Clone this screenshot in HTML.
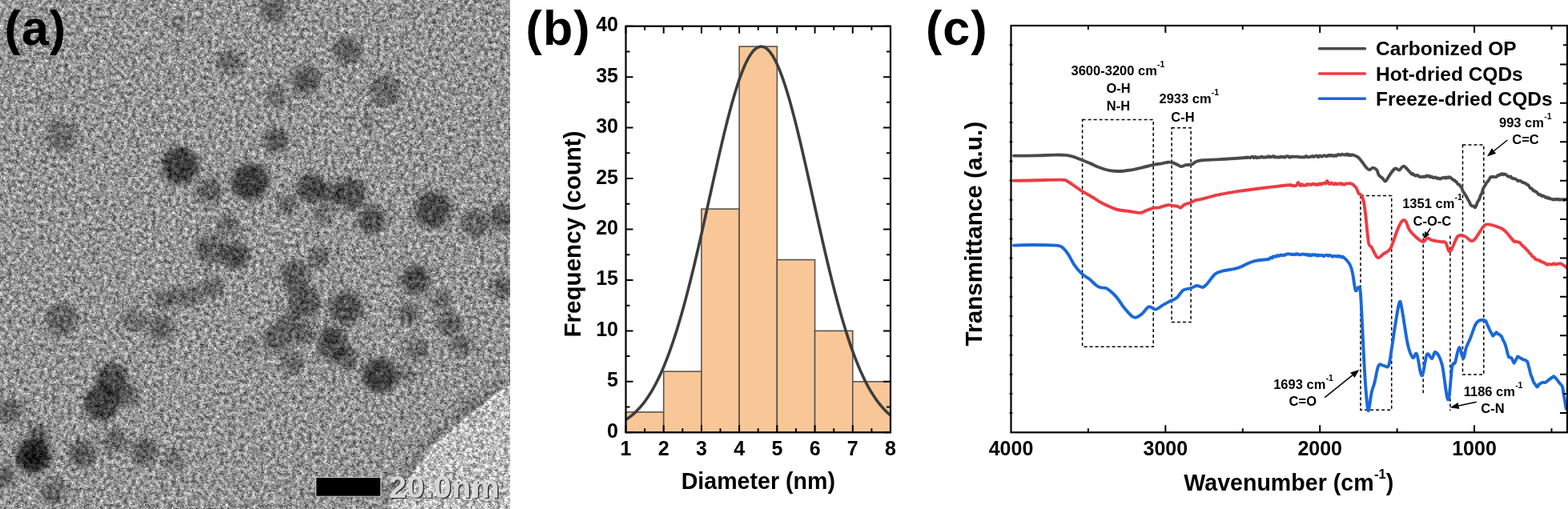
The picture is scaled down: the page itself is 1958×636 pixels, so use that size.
<!DOCTYPE html>
<html><head><meta charset="utf-8"><title>Figure</title>
<style>
html,body{margin:0;padding:0;background:#fff;}
body{width:1958px;height:636px;overflow:hidden;position:relative;}
.tem{position:absolute;left:0;top:0;}
.main{position:absolute;left:0;top:0;}
text{font-family:'Liberation Sans', Arial, Helvetica, sans-serif;font-weight:bold;fill:#000;}
.tl{font-size:25px;}
.al{font-size:29px;}
.lg{font-size:24.5px;}
.an{font-size:16.5px;}
.pl{font-size:61px;letter-spacing:1px;}
</style></head><body>
<svg class="tem" width="637" height="636" viewBox="0 0 637 636"><defs><filter id="tn" x="0" y="0" width="637" height="636" filterUnits="userSpaceOnUse" color-interpolation-filters="sRGB"><feTurbulence type="fractalNoise" baseFrequency="0.6" numOctaves="1" seed="7" result="t1"/><feColorMatrix in="t1" type="matrix" values="1 0 0 0 0  1 0 0 0 0  1 0 0 0 0  0 0 0 0 1" result="g1"/><feTurbulence type="fractalNoise" baseFrequency="0.2" numOctaves="2" seed="3" result="t2"/><feColorMatrix in="t2" type="matrix" values="1 0 0 0 0  1 0 0 0 0  1 0 0 0 0  0 0 0 0 1" result="g2"/><feComposite in="g1" in2="g2" operator="arithmetic" k1="0" k2="0.5" k3="0.500" k4="0" result="g"/><feComposite in="SourceGraphic" in2="g" operator="arithmetic" k1="1.800" k2="0.100" k3="0.6" k4="-0.300"/></filter><filter id="bl" x="-50%" y="-50%" width="200%" height="200%"><feGaussianBlur stdDeviation="3.5"/></filter><filter id="bl2" x="-50%" y="-50%" width="200%" height="200%"><feGaussianBlur stdDeviation="3"/></filter><filter id="bl3" x="-50%" y="-50%" width="200%" height="200%"><feGaussianBlur stdDeviation="1"/></filter></defs><g filter="url(#tn)"><rect width="637" height="636" fill="#949494"/><path d="M637,482 C628,488 618,495 611,501 C596,512 580,525 567,537 C557,546 548,553 541,561 C533,570 527,579 521,587 C514,597 507,604 501,611 C496,618 492,627 489,636 L637,636 Z" fill="#bcbcbc"/><path d="M637,482 C628,488 618,495 611,501 C596,512 580,525 567,537 C557,546 548,553 541,561 C533,570 527,579 521,587 C514,597 507,604 501,611 C496,618 492,627 489,636" transform="translate(-7,-6)" fill="none" stroke="#000" stroke-opacity="0.16" stroke-width="12" filter="url(#bl2)"/><path d="M637,482 C628,488 618,495 611,501 C596,512 580,525 567,537 C557,546 548,553 541,561 C533,570 527,579 521,587 C514,597 507,604 501,611 C496,618 492,627 489,636" fill="none" stroke="#e4e4e4" stroke-width="3" filter="url(#bl3)"/><g filter="url(#bl)"><circle cx="77" cy="170" r="20.0" fill="#000" fill-opacity="0.28"/><circle cx="60" cy="125" r="8.0" fill="#000" fill-opacity="0.12"/><circle cx="342" cy="13" r="17.0" fill="#000" fill-opacity="0.34"/><circle cx="287" cy="77" r="15.0" fill="#000" fill-opacity="0.31"/><circle cx="382" cy="100" r="18.0" fill="#000" fill-opacity="0.40"/><circle cx="345" cy="120" r="14.0" fill="#000" fill-opacity="0.28"/><circle cx="345" cy="175" r="15.0" fill="#000" fill-opacity="0.43"/><circle cx="222" cy="30" r="10.0" fill="#000" fill-opacity="0.19"/><circle cx="225" cy="207" r="23.0" fill="#000" fill-opacity="0.59"/><circle cx="434" cy="63" r="17.0" fill="#000" fill-opacity="0.37"/><circle cx="481" cy="113" r="20.0" fill="#000" fill-opacity="0.31"/><circle cx="461" cy="153" r="10.0" fill="#000" fill-opacity="0.19"/><circle cx="77" cy="399" r="20.0" fill="#000" fill-opacity="0.34"/><circle cx="167" cy="399" r="15.0" fill="#000" fill-opacity="0.28"/><circle cx="203" cy="375" r="12.0" fill="#000" fill-opacity="0.28"/><circle cx="201" cy="410" r="16.0" fill="#000" fill-opacity="0.34"/><circle cx="312" cy="227" r="23.0" fill="#000" fill-opacity="0.59"/><circle cx="262" cy="239" r="16.0" fill="#000" fill-opacity="0.37"/><circle cx="389" cy="235" r="18.0" fill="#000" fill-opacity="0.50"/><circle cx="412" cy="242" r="14.0" fill="#000" fill-opacity="0.37"/><circle cx="359" cy="255" r="13.0" fill="#000" fill-opacity="0.31"/><circle cx="284" cy="282" r="14.0" fill="#000" fill-opacity="0.31"/><circle cx="294" cy="319" r="17.0" fill="#000" fill-opacity="0.50"/><circle cx="262" cy="312" r="18.0" fill="#000" fill-opacity="0.37"/><circle cx="368" cy="344" r="18.0" fill="#000" fill-opacity="0.40"/><circle cx="399" cy="322" r="13.0" fill="#000" fill-opacity="0.34"/><circle cx="402" cy="269" r="12.0" fill="#000" fill-opacity="0.28"/><circle cx="380" cy="377" r="20.0" fill="#000" fill-opacity="0.43"/><circle cx="265" cy="359" r="14.0" fill="#000" fill-opacity="0.31"/><circle cx="239" cy="369" r="13.0" fill="#000" fill-opacity="0.31"/><circle cx="219" cy="372" r="12.0" fill="#000" fill-opacity="0.28"/><circle cx="362" cy="399" r="12.0" fill="#000" fill-opacity="0.31"/><circle cx="412" cy="419" r="12.0" fill="#000" fill-opacity="0.31"/><circle cx="437" cy="242" r="20.0" fill="#000" fill-opacity="0.46"/><circle cx="464" cy="275" r="18.0" fill="#000" fill-opacity="0.43"/><circle cx="541" cy="262" r="23.0" fill="#000" fill-opacity="0.50"/><circle cx="594" cy="279" r="17.0" fill="#000" fill-opacity="0.34"/><circle cx="627" cy="272" r="16.0" fill="#000" fill-opacity="0.40"/><circle cx="519" cy="349" r="18.0" fill="#000" fill-opacity="0.50"/><circle cx="551" cy="375" r="12.0" fill="#000" fill-opacity="0.31"/><circle cx="511" cy="392" r="14.0" fill="#000" fill-opacity="0.34"/><circle cx="432" cy="385" r="21.0" fill="#000" fill-opacity="0.46"/><circle cx="561" cy="405" r="15.0" fill="#000" fill-opacity="0.37"/><circle cx="627" cy="359" r="14.0" fill="#000" fill-opacity="0.34"/><circle cx="140" cy="474" r="20.0" fill="#000" fill-opacity="0.50"/><circle cx="127" cy="504" r="22.0" fill="#000" fill-opacity="0.56"/><circle cx="160" cy="494" r="14.0" fill="#000" fill-opacity="0.34"/><circle cx="42" cy="570" r="22.0" fill="#000" fill-opacity="0.68"/><circle cx="42" cy="571" r="11.0" fill="#000" fill-opacity="0.56"/><circle cx="47" cy="544" r="14.0" fill="#000" fill-opacity="0.37"/><circle cx="13" cy="514" r="16.0" fill="#000" fill-opacity="0.34"/><circle cx="103" cy="567" r="17.0" fill="#000" fill-opacity="0.40"/><circle cx="143" cy="551" r="14.0" fill="#000" fill-opacity="0.34"/><circle cx="180" cy="564" r="17.0" fill="#000" fill-opacity="0.37"/><circle cx="5" cy="594" r="14.0" fill="#000" fill-opacity="0.37"/><circle cx="67" cy="614" r="16.0" fill="#000" fill-opacity="0.31"/><circle cx="365" cy="454" r="14.0" fill="#000" fill-opacity="0.31"/><circle cx="312" cy="434" r="12.0" fill="#000" fill-opacity="0.19"/><circle cx="217" cy="574" r="12.0" fill="#000" fill-opacity="0.28"/><circle cx="347" cy="422" r="18.0" fill="#000" fill-opacity="0.37"/><circle cx="378" cy="415" r="15.0" fill="#000" fill-opacity="0.34"/><circle cx="416" cy="431" r="20.0" fill="#000" fill-opacity="0.43"/><circle cx="432" cy="448" r="15.0" fill="#000" fill-opacity="0.34"/><circle cx="474" cy="469" r="22.0" fill="#000" fill-opacity="0.56"/><circle cx="507" cy="467" r="12.0" fill="#000" fill-opacity="0.25"/><circle cx="521" cy="437" r="14.0" fill="#000" fill-opacity="0.31"/><circle cx="577" cy="431" r="13.0" fill="#000" fill-opacity="0.34"/><circle cx="590" cy="510" r="14.0" fill="#000" fill-opacity="0.15"/></g></g><rect x="394.5" y="596.5" width="81" height="23.7" fill="#000" stroke="#c8c8c8" stroke-width="1"/><text x="487.2" y="622.9" font-size="39.3" letter-spacing="0.5" style="fill:#151515;opacity:0.85">20.0nm</text><text x="485.7" y="621.9" font-size="39.3" letter-spacing="0.5" style="fill:#d6d6d6">20.0nm</text></svg>
<svg class="main" width="1958" height="636" viewBox="0 0 1958 636">
<rect x="781.50" y="514.92" width="47.21" height="25.38" fill="#f9c797" stroke="#5a5450" stroke-width="1.6"/>
<rect x="828.71" y="464.16" width="47.21" height="76.14" fill="#f9c797" stroke="#5a5450" stroke-width="1.6"/>
<rect x="875.93" y="261.12" width="47.21" height="279.18" fill="#f9c797" stroke="#5a5450" stroke-width="1.6"/>
<rect x="923.14" y="58.08" width="47.21" height="482.22" fill="#f9c797" stroke="#5a5450" stroke-width="1.6"/>
<rect x="970.36" y="324.57" width="47.21" height="215.73" fill="#f9c797" stroke="#5a5450" stroke-width="1.6"/>
<rect x="1017.57" y="413.40" width="47.21" height="126.90" fill="#f9c797" stroke="#5a5450" stroke-width="1.6"/>
<rect x="1064.79" y="476.85" width="47.21" height="63.45" fill="#f9c797" stroke="#5a5450" stroke-width="1.6"/>
<path d="M781.50,524.43 L783.86,522.86 L786.22,521.15 L788.58,519.31 L790.94,517.31 L793.30,515.16 L795.66,512.85 L798.02,510.36 L800.39,507.69 L802.75,504.84 L805.11,501.78 L807.47,498.51 L809.83,495.03 L812.19,491.32 L814.55,487.38 L816.91,483.20 L819.27,478.77 L821.63,474.08 L823.99,469.13 L826.35,463.92 L828.71,458.43 L831.08,452.66 L833.44,446.61 L835.80,440.28 L838.16,433.66 L840.52,426.76 L842.88,419.57 L845.24,412.09 L847.60,404.34 L849.96,396.30 L852.32,388.00 L854.68,379.43 L857.04,370.60 L859.40,361.53 L861.76,352.22 L864.12,342.70 L866.49,332.96 L868.85,323.04 L871.21,312.94 L873.57,302.69 L875.93,292.32 L878.29,281.83 L880.65,271.25 L883.01,260.62 L885.37,249.95 L887.73,239.28 L890.09,228.63 L892.45,218.04 L894.81,207.52 L897.17,197.13 L899.54,186.87 L901.90,176.80 L904.26,166.94 L906.62,157.32 L908.98,147.97 L911.34,138.93 L913.70,130.23 L916.06,121.90 L918.42,113.97 L920.78,106.46 L923.14,99.41 L925.50,92.85 L927.86,86.79 L930.22,81.26 L932.59,76.28 L934.95,71.87 L937.31,68.05 L939.67,64.83 L942.03,62.22 L944.39,60.25 L946.75,58.90 L949.11,58.20 L951.47,58.13 L953.83,58.71 L956.19,59.93 L958.55,61.78 L960.91,64.26 L963.27,67.35 L965.64,71.06 L968.00,75.35 L970.36,80.22 L972.72,85.64 L975.08,91.59 L977.44,98.06 L979.80,105.02 L982.16,112.43 L984.52,120.28 L986.88,128.53 L989.24,137.16 L991.60,146.14 L993.96,155.42 L996.32,164.99 L998.69,174.81 L1001.05,184.84 L1003.41,195.06 L1005.77,205.43 L1008.13,215.93 L1010.49,226.51 L1012.85,237.15 L1015.21,247.82 L1017.57,258.49 L1019.93,269.13 L1022.29,279.72 L1024.65,290.23 L1027.01,300.63 L1029.37,310.90 L1031.74,321.03 L1034.10,330.99 L1036.46,340.77 L1038.82,350.34 L1041.18,359.69 L1043.54,368.81 L1045.90,377.68 L1048.26,386.31 L1050.62,394.66 L1052.98,402.75 L1055.34,410.57 L1057.70,418.10 L1060.06,425.34 L1062.42,432.31 L1064.79,438.98 L1067.15,445.37 L1069.51,451.47 L1071.87,457.30 L1074.23,462.84 L1076.59,468.11 L1078.95,473.11 L1081.31,477.85 L1083.67,482.33 L1086.03,486.56 L1088.39,490.55 L1090.75,494.30 L1093.11,497.83 L1095.47,501.14 L1097.84,504.24 L1100.20,507.14 L1102.56,509.84 L1104.92,512.37 L1107.28,514.71 L1109.64,516.89 L1112.00,518.92" fill="none" stroke="#3d3d3d" stroke-width="3.6" stroke-linejoin="round"/>
<rect x="781.5" y="32.7" width="330.5" height="507.59999999999997" fill="none" stroke="#000" stroke-width="2.2"/>
<path d="M781.50,540.3 v-9 M781.50,32.7 v9 M805.11,540.3 v-5 M805.11,32.7 v5 M828.71,540.3 v-9 M828.71,32.7 v9 M852.32,540.3 v-5 M852.32,32.7 v5 M875.93,540.3 v-9 M875.93,32.7 v9 M899.54,540.3 v-5 M899.54,32.7 v5 M923.14,540.3 v-9 M923.14,32.7 v9 M946.75,540.3 v-5 M946.75,32.7 v5 M970.36,540.3 v-9 M970.36,32.7 v9 M993.96,540.3 v-5 M993.96,32.7 v5 M1017.57,540.3 v-9 M1017.57,32.7 v9 M1041.18,540.3 v-5 M1041.18,32.7 v5 M1064.79,540.3 v-9 M1064.79,32.7 v9 M1088.39,540.3 v-5 M1088.39,32.7 v5 M1112.00,540.3 v-9 M1112.00,32.7 v9 M781.5,540.30 h9 M1112.0,540.30 h-9 M781.5,508.57 h5 M1112.0,508.57 h-5 M781.5,476.85 h9 M1112.0,476.85 h-9 M781.5,445.12 h5 M1112.0,445.12 h-5 M781.5,413.40 h9 M1112.0,413.40 h-9 M781.5,381.67 h5 M1112.0,381.67 h-5 M781.5,349.95 h9 M1112.0,349.95 h-9 M781.5,318.22 h5 M1112.0,318.22 h-5 M781.5,286.50 h9 M1112.0,286.50 h-9 M781.5,254.77 h5 M1112.0,254.77 h-5 M781.5,223.05 h9 M1112.0,223.05 h-9 M781.5,191.32 h5 M1112.0,191.32 h-5 M781.5,159.60 h9 M1112.0,159.60 h-9 M781.5,127.87 h5 M1112.0,127.87 h-5 M781.5,96.15 h9 M1112.0,96.15 h-9 M781.5,64.42 h5 M1112.0,64.42 h-5 M781.5,32.70 h9 M1112.0,32.70 h-9" stroke="#000" stroke-width="2" fill="none"/>
<text x="772" y="546.8" text-anchor="end" class="tl">0</text>
<text x="772" y="483.3" text-anchor="end" class="tl">5</text>
<text x="772" y="419.9" text-anchor="end" class="tl">10</text>
<text x="772" y="356.4" text-anchor="end" class="tl">15</text>
<text x="772" y="293.0" text-anchor="end" class="tl">20</text>
<text x="772" y="229.5" text-anchor="end" class="tl">25</text>
<text x="772" y="166.1" text-anchor="end" class="tl">30</text>
<text x="772" y="102.6" text-anchor="end" class="tl">35</text>
<text x="772" y="39.2" text-anchor="end" class="tl">40</text>
<text x="781.5" y="569" text-anchor="middle" class="tl">1</text>
<text x="828.7" y="569" text-anchor="middle" class="tl">2</text>
<text x="875.9" y="569" text-anchor="middle" class="tl">3</text>
<text x="923.1" y="569" text-anchor="middle" class="tl">4</text>
<text x="970.4" y="569" text-anchor="middle" class="tl">5</text>
<text x="1017.6" y="569" text-anchor="middle" class="tl">6</text>
<text x="1064.8" y="569" text-anchor="middle" class="tl">7</text>
<text x="1112.0" y="569" text-anchor="middle" class="tl">8</text>
<text x="946.8" y="610.7" text-anchor="middle" class="al" font-size="28.6" style="font-size:28.6px">Diameter (nm)</text>
<text transform="translate(724.6,292.5) rotate(-90)" text-anchor="middle" class="al" style="font-size:29.6px">Frequency (count)</text>
<rect x="1351.6" y="149.5" width="88.6" height="283.8" stroke="#000" stroke-width="1.5" stroke-dasharray="4,3" fill="none"/>
<rect x="1463.1" y="159.7" width="24" height="242.9" stroke="#000" stroke-width="1.5" stroke-dasharray="4,3" fill="none"/>
<rect x="1699" y="244.5" width="38.7" height="267.7" stroke="#000" stroke-width="1.5" stroke-dasharray="4,3" fill="none"/>
<rect x="1826.5" y="181" width="26.3" height="287" stroke="#000" stroke-width="1.5" stroke-dasharray="4,3" fill="none"/>
<path d="M1777.2,291.3 V493.8 M1810.9,294.5 V512.9" stroke="#000" stroke-width="1.5" stroke-dasharray="4,3" fill="none"/>
<path d="M1266.0,194.6 C1270.6,194.6 1284.9,194.6 1293.4,194.4 C1301.9,194.2 1310.7,193.7 1317.0,193.6 C1323.3,193.5 1327.3,193.5 1331.2,193.9 C1335.1,194.3 1337.2,194.9 1340.6,195.9 C1344.0,196.9 1347.9,198.8 1351.6,200.2 C1355.3,201.6 1359.2,203.1 1362.6,204.6 C1366.0,206.1 1368.3,207.6 1372.0,209.0 C1375.7,210.4 1380.4,212.0 1384.6,212.8 C1388.8,213.6 1393.0,214.0 1397.2,214.0 C1401.4,214.0 1405.1,213.5 1409.8,212.8 C1414.5,212.1 1420.4,210.8 1425.5,209.6 C1430.6,208.4 1436.3,206.7 1440.5,205.8 C1444.7,204.9 1447.7,204.8 1450.7,204.3 C1453.7,203.8 1456.4,202.9 1458.5,202.7 C1460.6,202.5 1461.5,202.6 1463.3,203.0 C1465.1,203.4 1467.5,204.6 1469.5,205.4 C1471.5,206.2 1473.2,207.9 1475.0,208.0 C1476.8,208.1 1478.4,206.6 1480.6,206.2 C1482.8,205.8 1486.3,206.1 1488.4,205.4 C1490.5,204.7 1491.0,203.1 1493.1,202.2 C1495.2,201.3 1495.9,200.7 1501.0,200.2 C1506.1,199.7 1514.6,199.6 1523.6,199.1 C1532.6,198.6 1549.5,197.4 1555.0,197.0 C1560.5,196.6 1555.9,196.5 1556.3,196.5 C1556.8,196.5 1557.2,197.0 1557.6,197.0 C1558.1,197.0 1558.5,196.6 1558.9,196.6 C1559.4,196.6 1559.8,196.9 1560.2,197.0 C1560.7,197.1 1561.1,197.2 1561.6,197.0 C1562.0,196.8 1562.4,196.1 1562.9,195.9 C1563.3,195.7 1563.8,195.6 1564.2,195.8 C1564.6,196.0 1565.1,197.2 1565.5,197.2 C1565.9,197.3 1566.4,196.4 1566.8,196.2 C1567.2,196.0 1567.7,195.9 1568.1,196.1 C1568.6,196.3 1569.0,197.3 1569.4,197.4 C1569.9,197.4 1570.3,196.5 1570.8,196.4 C1571.2,196.3 1571.6,197.0 1572.1,197.0 C1572.5,197.0 1572.9,196.4 1573.4,196.3 C1573.8,196.2 1574.2,196.7 1574.7,196.6 C1575.1,196.4 1575.6,195.7 1576.0,195.6 C1576.4,195.6 1576.9,196.3 1577.3,196.5 C1577.8,196.7 1578.2,196.9 1578.6,196.8 C1579.1,196.8 1579.5,196.2 1579.9,196.2 C1580.4,196.1 1580.8,196.5 1581.2,196.5 C1581.7,196.5 1582.1,196.6 1582.6,196.3 C1583.0,196.1 1583.4,195.2 1583.9,195.2 C1584.3,195.2 1584.8,196.3 1585.2,196.4 C1585.6,196.5 1586.1,196.0 1586.5,195.9 C1586.9,195.8 1587.4,196.1 1587.8,196.1 C1588.2,196.0 1588.7,195.7 1589.1,195.5 C1589.6,195.4 1590.0,194.9 1590.4,195.1 C1590.9,195.2 1591.3,196.4 1591.7,196.6 C1592.2,196.7 1592.6,195.9 1593.0,195.9 C1593.5,195.8 1593.9,196.2 1594.3,196.3 C1594.8,196.4 1595.2,196.6 1595.7,196.6 C1596.1,196.6 1596.5,196.3 1597.0,196.3 C1597.4,196.3 1597.8,196.8 1598.3,196.7 C1598.7,196.6 1599.1,195.7 1599.6,195.7 C1600.0,195.7 1600.5,196.4 1600.9,196.4 C1601.3,196.5 1601.8,195.8 1602.2,195.8 C1602.6,195.8 1603.1,196.6 1603.5,196.7 C1603.9,196.8 1604.4,196.8 1604.8,196.6 C1605.3,196.3 1605.7,195.4 1606.1,195.2 C1606.6,195.0 1607.0,195.2 1607.4,195.2 C1607.9,195.3 1608.3,195.1 1608.7,195.4 C1609.2,195.6 1609.6,196.7 1610.1,196.7 C1610.5,196.8 1610.9,195.9 1611.4,195.8 C1611.8,195.7 1612.2,196.2 1612.7,196.1 C1613.1,196.1 1613.5,195.6 1614.0,195.5 C1614.4,195.5 1614.8,195.9 1615.3,195.9 C1615.7,195.9 1616.2,195.7 1616.6,195.7 C1617.0,195.7 1617.5,195.9 1617.9,195.9 C1618.3,195.9 1618.8,195.6 1619.2,195.6 C1619.7,195.6 1620.1,195.9 1620.5,196.0 C1621.0,196.1 1621.4,195.9 1621.8,196.0 C1622.3,196.1 1622.7,196.5 1623.2,196.5 C1623.6,196.5 1624.0,196.1 1624.5,196.1 C1624.9,196.1 1625.3,196.5 1625.8,196.5 C1626.2,196.5 1626.7,196.3 1627.1,196.3 C1627.5,196.3 1628.0,196.6 1628.4,196.6 C1628.8,196.5 1629.3,196.2 1629.7,195.9 C1630.2,195.7 1630.6,195.0 1631.0,195.0 C1631.5,195.0 1631.9,196.0 1632.3,196.2 C1632.8,196.5 1633.2,196.4 1633.7,196.4 C1634.1,196.4 1634.5,196.4 1635.0,196.2 C1635.4,196.1 1635.8,195.7 1636.3,195.6 C1636.7,195.5 1637.2,196.0 1637.6,195.8 C1638.0,195.7 1638.5,194.9 1638.9,194.9 C1639.3,194.9 1639.8,195.9 1640.2,196.0 C1640.7,196.1 1641.1,195.7 1641.5,195.5 C1642.0,195.3 1642.4,195.1 1642.8,195.0 C1643.3,194.8 1643.7,194.4 1644.2,194.5 C1644.6,194.7 1645.0,195.7 1645.5,195.9 C1645.9,196.2 1646.3,196.4 1646.8,196.1 C1647.2,195.9 1647.7,194.6 1648.1,194.5 C1648.5,194.3 1649.0,195.0 1649.4,195.2 C1649.8,195.4 1650.3,195.7 1650.7,195.7 C1651.1,195.6 1651.6,195.1 1652.0,194.9 C1652.5,194.6 1652.9,194.4 1653.3,194.3 C1653.8,194.2 1654.2,194.3 1654.6,194.5 C1655.1,194.6 1655.5,195.1 1656.0,195.2 C1656.4,195.4 1656.8,195.6 1657.3,195.3 C1657.7,195.1 1658.1,193.9 1658.6,193.8 C1659.0,193.7 1659.5,194.7 1659.9,194.7 C1660.3,194.7 1660.8,193.6 1661.2,193.6 C1661.6,193.6 1662.1,194.6 1662.5,194.7 C1662.9,194.8 1663.4,193.9 1663.8,193.9 C1664.3,193.9 1664.7,194.7 1665.1,194.8 C1665.6,195.0 1666.0,195.1 1666.4,194.9 C1666.9,194.8 1667.3,194.0 1667.8,194.0 C1668.2,193.9 1668.6,194.9 1669.1,194.8 C1669.5,194.7 1669.9,193.7 1670.4,193.4 C1670.8,193.1 1671.3,192.9 1671.7,192.9 C1672.1,193.0 1672.6,193.5 1673.0,193.6 C1673.4,193.7 1673.9,193.9 1674.3,193.8 C1674.7,193.6 1675.2,192.8 1675.6,192.7 C1676.1,192.6 1676.5,192.9 1676.9,193.0 C1677.4,193.1 1677.8,193.2 1678.2,193.3 C1678.7,193.4 1679.1,193.8 1679.5,193.7 C1680.0,193.6 1680.4,193.0 1680.8,192.8 C1681.3,192.7 1681.7,192.4 1682.2,192.6 C1682.6,192.8 1683.0,194.0 1683.5,194.1 C1683.9,194.1 1684.3,193.0 1684.8,193.0 C1685.2,193.1 1685.6,194.0 1686.1,194.2 C1686.5,194.3 1687.0,194.2 1687.4,194.0 C1687.8,193.9 1687.4,193.0 1688.7,193.3 C1690.0,193.6 1693.2,194.7 1695.0,195.9 C1696.8,197.1 1697.9,198.5 1699.7,200.7 C1701.5,202.9 1704.3,207.4 1706.0,209.3 C1707.7,211.2 1708.6,212.1 1710.0,212.1 C1711.4,212.1 1713.0,209.5 1714.6,209.6 C1716.1,209.7 1718.1,211.0 1719.3,212.5 C1720.5,214.0 1720.5,217.0 1721.7,218.7 C1722.9,220.4 1725.0,221.4 1726.4,222.7 C1727.8,224.0 1728.7,227.1 1730.3,226.3 C1731.9,225.5 1733.8,220.6 1735.8,218.0 C1737.8,215.4 1740.0,211.5 1742.0,210.6 C1744.0,209.7 1745.7,213.0 1747.5,212.5 C1749.3,212.0 1750.5,206.9 1753.0,207.7 C1755.5,208.5 1760.7,215.7 1762.5,217.2 C1764.3,218.7 1763.4,216.7 1763.9,216.9 C1764.4,217.1 1764.8,218.1 1765.3,218.4 C1765.7,218.7 1766.2,218.6 1766.7,218.8 C1767.1,219.0 1767.6,219.7 1768.1,219.7 C1768.5,219.8 1769.0,219.0 1769.4,219.0 C1769.9,218.9 1770.4,219.1 1770.8,219.4 C1771.3,219.6 1771.8,220.4 1772.2,220.7 C1772.7,220.9 1773.1,220.9 1773.6,221.0 C1774.1,221.0 1774.5,221.2 1775.0,221.1 C1775.5,221.0 1775.9,220.6 1776.3,220.6 C1776.8,220.6 1777.2,221.1 1777.6,221.1 C1778.1,221.0 1778.5,220.4 1779.0,220.4 C1779.4,220.3 1779.8,221.0 1780.3,220.9 C1780.7,220.7 1781.1,219.6 1781.6,219.5 C1782.0,219.4 1782.5,220.0 1782.9,220.0 C1783.3,220.0 1783.8,219.6 1784.2,219.8 C1784.6,220.0 1785.1,221.2 1785.5,221.3 C1786.0,221.4 1786.4,220.7 1786.8,220.6 C1787.3,220.5 1787.7,220.5 1788.1,220.7 C1788.6,221.0 1789.0,221.8 1789.4,222.0 C1789.9,222.2 1790.3,222.1 1790.8,222.0 C1791.2,221.9 1791.6,221.3 1792.1,221.4 C1792.5,221.5 1792.9,222.2 1793.4,222.4 C1793.8,222.7 1794.2,222.9 1794.7,222.9 C1795.1,222.9 1795.5,222.2 1796.0,222.3 C1796.4,222.4 1796.9,223.3 1797.3,223.5 C1797.7,223.7 1798.2,223.7 1798.6,223.5 C1799.0,223.3 1799.5,222.7 1800.0,222.5 C1800.4,222.4 1800.9,222.7 1801.3,222.6 C1801.8,222.5 1802.3,222.0 1802.7,221.8 C1803.2,221.7 1803.6,221.6 1804.1,221.8 C1804.6,221.9 1805.0,222.9 1805.5,222.9 C1805.9,222.8 1806.4,221.6 1806.8,221.5 C1807.3,221.4 1807.8,222.4 1808.2,222.3 C1808.7,222.2 1809.1,221.2 1809.6,221.1 C1810.1,221.0 1810.6,221.6 1811.2,222.0 C1811.7,222.3 1812.2,222.8 1812.8,223.2 C1813.3,223.7 1813.8,224.4 1814.3,224.7 C1814.9,225.0 1815.4,224.7 1815.9,225.0 C1816.4,225.3 1816.8,226.3 1817.2,226.7 C1817.7,227.0 1818.1,226.5 1818.5,226.9 C1819.0,227.3 1819.4,228.5 1819.8,229.1 C1820.3,229.7 1820.7,230.2 1821.2,230.5 C1821.6,230.8 1822.0,230.6 1822.5,231.0 C1822.9,231.4 1823.3,232.2 1823.8,232.9 C1824.3,233.6 1824.8,233.9 1825.3,234.9 C1825.9,235.9 1826.4,238.0 1826.9,239.1 C1827.4,240.1 1827.9,240.4 1828.5,241.2 C1829.0,242.0 1829.5,243.0 1830.0,243.9 C1830.5,244.8 1831.1,245.3 1831.6,246.3 C1832.1,247.3 1832.7,248.7 1833.2,249.7 C1833.7,250.7 1834.3,251.2 1834.8,252.2 C1835.3,253.2 1835.9,254.9 1836.4,255.7 C1836.9,256.5 1837.3,256.8 1837.8,257.1 C1838.2,257.4 1838.7,257.4 1839.2,257.5 C1839.6,257.6 1840.1,257.4 1840.5,257.7 C1841.0,258.0 1841.4,259.4 1841.9,259.3 C1842.4,259.2 1842.8,258.2 1843.3,257.2 C1843.7,256.2 1844.2,254.3 1844.7,253.2 C1845.1,252.2 1845.6,251.6 1846.0,250.9 C1846.5,250.1 1846.9,249.8 1847.4,248.6 C1847.9,247.4 1848.4,245.1 1849.0,243.8 C1849.5,242.6 1850.0,242.5 1850.5,241.2 C1851.0,239.9 1851.5,237.5 1852.0,236.1 C1852.6,234.7 1853.1,233.8 1853.6,232.9 C1854.1,232.0 1854.5,231.8 1854.9,231.0 C1855.4,230.2 1855.8,228.9 1856.2,228.2 C1856.7,227.6 1857.1,227.4 1857.5,227.0 C1858.0,226.5 1858.4,226.0 1858.9,225.4 C1859.3,224.7 1859.7,223.8 1860.2,223.1 C1860.6,222.4 1861.0,221.5 1861.5,221.1 C1862.0,220.7 1862.5,221.0 1863.1,221.0 C1863.6,221.0 1864.1,221.1 1864.7,221.1 C1865.2,221.1 1865.7,221.0 1866.2,221.0 C1866.8,221.0 1867.3,221.2 1867.8,221.1 C1868.3,221.0 1868.7,220.9 1869.1,220.6 C1869.6,220.2 1870.0,219.2 1870.4,219.0 C1870.9,218.7 1871.3,219.1 1871.8,219.0 C1872.2,218.8 1872.6,217.9 1873.1,217.8 C1873.5,217.7 1873.9,218.4 1874.4,218.3 C1874.8,218.1 1875.2,216.9 1875.7,216.9 C1876.2,216.9 1876.8,218.3 1877.3,218.3 C1877.8,218.4 1878.3,217.4 1878.8,217.4 C1879.4,217.4 1879.9,217.9 1880.4,218.2 C1881.0,218.6 1881.5,219.1 1882.0,219.5 C1882.5,219.9 1882.9,220.2 1883.4,220.5 C1883.8,220.7 1884.3,220.8 1884.8,220.8 C1885.2,220.8 1885.7,220.2 1886.1,220.4 C1886.6,220.6 1887.0,221.7 1887.5,222.2 C1888.0,222.7 1888.4,223.1 1888.9,223.2 C1889.3,223.3 1889.8,222.9 1890.2,222.9 C1890.7,222.9 1891.2,223.1 1891.6,223.3 C1892.1,223.6 1892.5,223.9 1893.0,224.2 C1893.5,224.5 1893.9,224.6 1894.4,224.9 C1894.9,225.3 1895.3,226.1 1895.8,226.2 C1896.2,226.3 1896.7,225.6 1897.2,225.6 C1897.6,225.6 1898.1,226.1 1898.6,226.3 C1899.0,226.5 1899.5,226.4 1899.9,226.7 C1900.4,227.0 1900.9,227.8 1901.3,228.1 C1901.8,228.4 1902.3,228.3 1902.7,228.4 C1903.2,228.5 1903.6,228.4 1904.1,228.6 C1904.6,228.9 1905.0,229.4 1905.5,229.7 C1906.0,230.0 1906.4,230.4 1906.8,230.6 C1907.3,230.8 1907.7,230.7 1908.1,231.1 C1908.6,231.4 1909.0,232.1 1909.5,232.7 C1909.9,233.4 1910.3,234.6 1910.8,235.0 C1911.2,235.5 1911.6,235.3 1912.1,235.4 C1912.5,235.6 1913.0,235.5 1913.4,236.0 C1913.8,236.5 1914.3,237.9 1914.7,238.3 C1915.2,238.7 1915.6,238.2 1916.0,238.4 C1916.5,238.5 1916.9,239.0 1917.3,239.3 C1917.8,239.6 1918.2,239.7 1918.7,240.0 C1919.1,240.4 1919.5,240.8 1920.0,241.3 C1920.4,241.9 1920.9,242.8 1921.3,243.1 C1921.7,243.4 1922.2,242.9 1922.6,243.0 C1923.0,243.1 1923.5,243.2 1923.9,243.5 C1924.4,243.9 1924.8,245.0 1925.2,245.1 C1925.7,245.3 1926.1,244.5 1926.5,244.5 C1927.0,244.5 1927.4,244.7 1927.8,244.9 C1928.3,245.2 1928.7,245.7 1929.2,246.0 C1929.6,246.4 1930.0,247.0 1930.5,247.1 C1930.9,247.1 1931.3,246.3 1931.8,246.4 C1932.2,246.5 1932.6,247.5 1933.1,247.7 C1933.5,247.9 1933.9,247.4 1934.4,247.4 C1934.8,247.5 1935.3,248.1 1935.7,248.3 C1936.1,248.4 1936.6,248.5 1937.0,248.6 C1937.4,248.7 1937.9,248.7 1938.3,248.8 C1938.8,249.0 1939.2,249.4 1939.7,249.5 C1940.1,249.6 1940.6,249.3 1941.0,249.2 C1941.4,249.1 1941.9,248.8 1942.3,248.8 C1942.8,248.9 1943.2,249.5 1943.7,249.5 C1944.1,249.5 1944.6,248.8 1945.0,248.7 C1945.4,248.6 1945.9,248.6 1946.3,248.8 C1946.8,249.0 1947.2,249.8 1947.7,249.9 C1948.1,249.9 1948.6,249.2 1949.0,249.2 C1949.4,249.1 1949.9,249.7 1950.3,249.6 C1950.8,249.6 1951.2,248.8 1951.7,248.9 C1952.1,248.9 1952.6,249.9 1953.0,250.0 C1953.4,250.1 1953.9,249.7 1954.3,249.5 C1954.8,249.3 1955.2,248.9 1955.7,248.9 C1956.1,248.9 1956.8,249.3 1957.0,249.4" fill="none" stroke="#4a4a4a" stroke-width="3.9" stroke-linejoin="round" stroke-linecap="round"/>
<path d="M1266.0,225.8 C1270.6,225.7 1283.3,225.5 1293.4,225.3 C1303.5,225.1 1319.9,224.5 1326.5,224.7 C1333.1,224.9 1330.5,225.4 1332.8,226.6 C1335.1,227.8 1337.5,229.5 1340.6,231.6 C1343.7,233.7 1347.9,236.9 1351.6,239.2 C1355.3,241.5 1358.7,243.2 1362.6,245.5 C1366.5,247.8 1371.5,251.3 1375.2,253.3 C1378.9,255.3 1381.2,256.2 1384.6,257.7 C1388.0,259.1 1391.4,260.9 1395.6,262.0 C1399.8,263.1 1405.1,263.4 1409.8,264.0 C1414.5,264.6 1420.3,266.1 1424.0,265.9 C1427.7,265.7 1429.0,263.8 1431.8,262.8 C1434.5,261.8 1437.9,260.5 1440.5,259.9 C1443.1,259.3 1444.5,259.9 1447.5,259.3 C1450.5,258.7 1455.3,256.5 1458.5,256.2 C1461.7,255.9 1464.3,257.0 1466.4,257.3 C1468.5,257.6 1469.8,257.6 1471.1,258.0 C1472.4,258.4 1473.0,260.0 1474.3,259.6 C1475.6,259.2 1476.9,256.8 1479.0,255.7 C1481.1,254.6 1484.5,253.9 1486.8,253.0 C1489.1,252.1 1490.7,250.9 1493.1,250.2 C1495.5,249.5 1496.5,249.7 1501.0,248.6 C1505.5,247.5 1512.7,245.2 1520.4,243.6 C1528.1,242.0 1537.5,240.4 1547.2,238.9 C1556.9,237.4 1568.1,236.1 1578.6,234.8 C1589.1,233.5 1604.5,231.8 1610.0,231.3 C1615.5,230.8 1611.0,231.5 1611.5,231.6 C1612.0,231.7 1612.5,231.8 1613.0,231.9 C1613.5,231.9 1614.0,231.9 1614.5,232.0 C1615.0,232.1 1615.5,232.3 1616.0,232.3 C1616.5,232.3 1617.0,232.1 1617.5,231.9 C1618.0,231.8 1618.4,232.2 1619.0,231.5 C1619.6,230.8 1620.3,228.1 1621.0,228.0 C1621.7,227.9 1622.4,230.5 1623.0,231.2 C1623.6,231.9 1623.9,232.2 1624.3,232.0 C1624.8,231.8 1625.2,230.3 1625.6,230.2 C1626.1,230.0 1626.5,230.7 1627.0,231.0 C1627.4,231.3 1627.8,231.8 1628.3,231.9 C1628.7,231.9 1629.2,231.3 1629.6,231.2 C1630.0,231.2 1630.5,231.9 1630.9,231.7 C1631.4,231.5 1631.8,230.2 1632.2,230.1 C1632.7,229.9 1633.1,230.7 1633.6,230.7 C1634.0,230.8 1634.5,230.2 1634.9,230.2 C1635.3,230.3 1635.8,230.7 1636.2,230.8 C1636.7,230.9 1637.1,231.0 1637.5,230.8 C1638.0,230.6 1638.4,229.8 1638.9,229.6 C1639.3,229.5 1639.7,229.8 1640.2,230.0 C1640.6,230.1 1641.0,230.5 1641.5,230.5 C1642.0,230.5 1642.4,229.9 1642.9,230.0 C1643.4,230.1 1643.8,231.0 1644.3,231.1 C1644.8,231.3 1645.2,231.0 1645.7,230.7 C1646.2,230.4 1646.6,229.4 1647.1,229.4 C1647.6,229.4 1648.0,230.6 1648.5,230.6 C1649.0,230.6 1649.4,229.3 1649.9,229.2 C1650.4,229.1 1650.8,230.1 1651.3,230.0 C1651.8,230.0 1652.2,229.2 1652.7,229.0 C1653.2,228.7 1653.6,228.5 1654.1,228.6 C1654.6,228.7 1655.0,229.9 1655.5,229.5 C1656.0,229.1 1656.6,226.1 1657.2,226.0 C1657.8,225.9 1658.5,228.5 1659.0,229.2 C1659.5,229.9 1659.9,230.1 1660.4,230.0 C1660.9,229.9 1661.3,228.9 1661.8,228.7 C1662.3,228.4 1662.7,228.4 1663.2,228.7 C1663.7,229.0 1664.1,230.0 1664.6,230.2 C1665.1,230.5 1665.5,230.3 1666.0,230.0 C1666.5,229.8 1666.9,228.9 1667.4,228.9 C1667.9,228.9 1668.3,230.2 1668.8,230.3 C1669.3,230.4 1669.7,229.5 1670.2,229.4 C1670.7,229.4 1671.1,229.7 1671.6,229.7 C1672.1,229.7 1672.5,229.5 1673.0,229.4 C1673.5,229.3 1673.9,228.7 1674.3,228.9 C1674.7,229.0 1675.2,230.2 1675.6,230.4 C1676.1,230.6 1676.5,229.9 1676.9,230.0 C1677.4,230.0 1677.8,230.5 1678.2,230.6 C1678.7,230.7 1679.1,230.7 1679.5,230.5 C1680.0,230.3 1680.4,229.5 1680.8,229.3 C1681.3,229.2 1681.7,229.6 1682.2,229.5 C1682.6,229.5 1683.0,229.3 1683.5,229.2 C1683.9,229.1 1684.3,229.2 1684.8,229.2 C1685.2,229.2 1685.6,229.0 1686.1,229.1 C1686.5,229.2 1687.0,229.5 1687.4,229.6 C1687.8,229.8 1687.7,229.3 1688.7,230.1 C1689.7,230.9 1692.1,232.6 1693.4,234.5 C1694.7,236.4 1695.5,239.9 1696.5,241.5 C1697.5,243.1 1698.7,242.2 1699.7,243.9 C1700.8,245.6 1701.9,247.9 1702.8,251.8 C1703.7,255.7 1704.1,258.7 1705.1,267.2 C1706.1,275.7 1707.7,296.1 1708.9,303.0 C1710.2,309.9 1710.7,305.6 1712.6,308.7 C1714.5,311.8 1717.7,320.5 1720.2,321.9 C1722.7,323.3 1725.0,319.1 1727.7,317.2 C1730.4,315.3 1733.4,315.5 1736.2,310.6 C1739.0,305.7 1742.3,293.6 1744.7,287.9 C1747.1,282.2 1748.7,278.6 1750.4,276.6 C1752.1,274.7 1753.5,274.5 1755.1,276.2 C1756.7,277.9 1757.8,283.8 1759.8,287.0 C1761.8,290.2 1764.6,293.0 1767.4,295.5 C1770.2,298.0 1774.3,301.8 1776.8,302.1 C1779.3,302.4 1780.6,297.7 1782.5,297.4 C1784.4,297.1 1785.3,299.4 1788.1,300.2 C1790.9,301.0 1796.6,301.6 1799.4,302.1 C1802.2,302.6 1803.2,301.0 1805.1,303.0 C1807.0,305.0 1808.3,315.6 1810.8,314.3 C1813.3,313.1 1817.1,298.6 1820.2,295.5 C1823.3,292.4 1826.8,294.6 1829.6,295.5 C1832.4,296.4 1835.0,300.8 1837.2,301.1 C1839.4,301.4 1840.3,300.4 1842.8,297.4 C1845.3,294.4 1849.8,286.0 1852.3,283.2 C1854.8,280.4 1855.1,280.4 1857.9,280.4 C1860.7,280.4 1865.7,281.9 1869.2,283.2 C1872.7,284.4 1875.2,284.9 1878.7,287.9 C1882.2,290.9 1887.9,298.9 1890.0,301.1 C1892.1,303.3 1891.0,301.2 1891.5,301.3 C1892.0,301.4 1892.5,301.7 1893.0,301.8 C1893.5,302.0 1894.0,302.0 1894.5,302.1 C1895.0,302.2 1895.5,302.4 1896.0,302.5 C1896.5,302.7 1897.0,302.7 1897.5,303.0 C1898.0,303.3 1898.4,303.8 1898.8,304.3 C1899.3,304.8 1899.8,305.6 1900.2,306.0 C1900.7,306.5 1901.1,306.4 1901.5,306.9 C1902.0,307.4 1902.5,308.4 1902.9,308.8 C1903.4,309.3 1903.8,309.0 1904.2,309.4 C1904.7,309.8 1905.2,310.7 1905.6,311.2 C1906.1,311.8 1906.5,312.2 1907.0,312.7 C1907.4,313.1 1907.8,313.2 1908.3,313.8 C1908.8,314.4 1909.2,315.6 1909.7,316.1 C1910.1,316.6 1910.5,316.4 1911.0,316.9 C1911.5,317.4 1911.9,318.3 1912.4,319.0 C1912.8,319.6 1913.2,320.3 1913.7,320.6 C1914.2,321.0 1914.6,320.7 1915.1,321.0 C1915.5,321.4 1915.9,322.3 1916.4,322.8 C1916.9,323.3 1917.3,323.7 1917.8,324.0 C1918.2,324.3 1918.7,324.4 1919.1,324.6 C1919.6,324.8 1920.1,325.1 1920.5,325.1 C1921.0,325.2 1921.4,324.7 1921.9,324.9 C1922.3,325.1 1922.8,325.8 1923.3,326.2 C1923.7,326.6 1924.2,326.9 1924.6,327.1 C1925.1,327.3 1925.6,327.2 1926.0,327.4 C1926.5,327.5 1926.9,327.7 1927.4,327.9 C1927.8,328.2 1928.3,328.5 1928.8,328.8 C1929.2,329.0 1929.7,329.1 1930.1,329.4 C1930.6,329.6 1931.1,330.2 1931.5,330.4 C1931.9,330.6 1932.4,330.8 1932.8,330.7 C1933.2,330.7 1933.7,330.1 1934.1,330.0 C1934.6,329.9 1935.0,330.0 1935.4,330.1 C1935.9,330.1 1936.3,330.2 1936.7,330.3 C1937.2,330.4 1937.6,330.8 1938.0,330.6 C1938.5,330.5 1938.9,329.9 1939.3,329.6 C1939.8,329.4 1940.2,329.1 1940.7,329.2 C1941.1,329.4 1941.5,330.3 1942.0,330.4 C1942.4,330.6 1942.8,330.2 1943.3,330.2 C1943.7,330.1 1944.1,330.1 1944.6,330.0 C1945.0,329.9 1945.4,329.7 1945.9,329.6 C1946.3,329.4 1946.8,329.1 1947.2,329.1 C1947.6,329.1 1948.0,329.3 1948.5,329.4 C1949.0,329.5 1949.4,329.5 1949.9,329.8 C1950.4,330.0 1950.9,330.5 1951.3,330.8 C1951.8,331.2 1952.3,331.7 1952.8,331.9 C1953.2,332.1 1953.7,331.9 1954.2,332.2 C1954.6,332.5 1955.1,333.5 1955.6,333.9 C1956.1,334.3 1956.8,334.4 1957.0,334.5" fill="none" stroke="#ee3b43" stroke-width="3.9" stroke-linejoin="round" stroke-linecap="round"/>
<path d="M1266.0,306.6 C1270.0,306.5 1281.5,306.0 1290.3,306.0 C1299.1,306.0 1312.6,306.1 1318.6,306.6 C1324.6,307.1 1323.7,307.1 1326.2,308.9 C1328.7,310.7 1331.2,313.8 1333.7,317.4 C1336.2,321.0 1338.4,326.5 1341.2,330.6 C1344.0,334.7 1347.6,338.9 1350.7,341.9 C1353.8,344.9 1357.0,346.0 1360.1,348.5 C1363.2,351.0 1367.0,355.2 1369.5,357.0 C1372.0,358.8 1373.0,358.8 1375.2,359.4 C1377.4,360.0 1379.7,358.9 1382.8,360.8 C1385.9,362.8 1390.6,367.2 1394.1,371.1 C1397.5,375.0 1400.3,380.4 1403.5,384.3 C1406.7,388.2 1410.5,392.6 1413.0,394.7 C1415.5,396.8 1416.4,397.1 1418.6,396.6 C1420.8,396.1 1423.5,394.1 1426.2,391.9 C1428.9,389.7 1431.8,384.3 1434.6,383.4 C1437.4,382.5 1440.1,387.0 1443.1,386.6 C1446.1,386.2 1449.8,382.5 1452.6,380.9 C1455.4,379.3 1457.3,378.3 1460.1,376.8 C1462.9,375.3 1466.6,374.5 1469.5,372.1 C1472.4,369.7 1474.6,364.6 1477.5,362.6 C1480.4,360.6 1484.2,361.1 1487.0,360.2 C1489.8,359.3 1492.0,357.2 1494.5,357.0 C1497.0,356.8 1499.9,359.4 1502.1,358.9 C1504.3,358.4 1505.2,356.9 1507.7,354.2 C1510.2,351.5 1514.1,345.1 1517.2,342.5 C1520.3,339.9 1521.9,340.0 1526.6,338.7 C1531.3,337.4 1539.2,336.9 1545.5,334.9 C1551.8,332.9 1558.0,328.6 1564.3,326.8 C1570.6,325.0 1579.8,324.6 1583.2,324.0 C1586.6,323.4 1584.1,323.6 1584.5,323.4 C1585.0,323.2 1585.4,323.0 1585.9,322.7 C1586.3,322.4 1586.8,321.8 1587.2,321.7 C1587.7,321.7 1588.1,322.7 1588.6,322.5 C1589.0,322.3 1589.5,320.7 1589.9,320.4 C1590.4,320.1 1590.8,320.8 1591.3,320.7 C1591.7,320.7 1592.2,320.2 1592.6,320.2 C1593.0,320.2 1593.5,320.9 1593.9,320.7 C1594.4,320.5 1594.8,319.2 1595.3,319.0 C1595.8,318.9 1596.2,319.6 1596.6,319.7 C1597.1,319.8 1597.5,319.8 1598.0,319.6 C1598.5,319.4 1598.9,318.5 1599.3,318.4 C1599.8,318.2 1600.2,318.7 1600.7,318.8 C1601.2,318.9 1601.6,319.2 1602.0,319.2 C1602.5,319.1 1602.9,318.6 1603.4,318.5 C1603.8,318.5 1604.3,319.0 1604.8,318.8 C1605.2,318.6 1605.6,317.8 1606.1,317.6 C1606.5,317.4 1607.0,317.6 1607.5,317.5 C1607.9,317.4 1608.3,317.1 1608.8,317.1 C1609.2,317.1 1609.7,317.6 1610.2,317.6 C1610.6,317.7 1611.0,317.3 1611.5,317.4 C1612.0,317.5 1612.4,318.2 1612.8,318.2 C1613.3,318.3 1613.8,317.7 1614.2,317.7 C1614.7,317.7 1615.1,318.1 1615.5,318.1 C1616.0,318.0 1616.5,317.4 1616.9,317.4 C1617.4,317.5 1617.8,318.2 1618.2,318.2 C1618.7,318.1 1619.2,317.2 1619.6,317.1 C1620.1,317.0 1620.5,317.3 1621.0,317.5 C1621.4,317.7 1621.8,318.1 1622.3,318.2 C1622.8,318.4 1623.2,318.4 1623.7,318.4 C1624.1,318.3 1624.5,318.1 1625.0,317.9 C1625.5,317.7 1625.9,317.4 1626.4,317.4 C1626.8,317.3 1627.2,317.7 1627.7,317.8 C1628.2,317.8 1628.6,317.6 1629.1,317.7 C1629.5,317.8 1630.0,318.3 1630.4,318.3 C1630.8,318.3 1631.3,317.9 1631.7,318.0 C1632.2,318.1 1632.6,319.0 1633.1,319.0 C1633.5,319.0 1634.0,317.9 1634.4,318.0 C1634.9,318.0 1635.3,319.0 1635.8,319.3 C1636.2,319.5 1636.7,319.5 1637.1,319.3 C1637.6,319.1 1638.0,318.0 1638.5,317.9 C1638.9,317.8 1639.4,318.4 1639.8,318.5 C1640.2,318.7 1640.7,318.9 1641.1,318.8 C1641.6,318.7 1642.0,318.0 1642.5,318.0 C1642.9,318.0 1643.4,318.5 1643.8,318.8 C1644.3,319.1 1644.7,319.8 1645.2,319.7 C1645.6,319.7 1646.1,318.4 1646.5,318.4 C1647.0,318.3 1647.4,319.2 1647.9,319.3 C1648.3,319.4 1648.8,319.3 1649.2,319.2 C1649.6,319.1 1650.1,318.5 1650.5,318.6 C1651.0,318.6 1651.5,319.2 1651.9,319.5 C1652.4,319.7 1652.8,320.2 1653.2,320.1 C1653.7,320.0 1654.1,319.2 1654.6,319.0 C1655.0,318.7 1655.5,318.7 1656.0,318.7 C1656.4,318.7 1656.8,318.7 1657.3,318.9 C1657.8,319.1 1658.2,319.8 1658.7,319.8 C1659.1,319.8 1659.5,319.0 1660.0,318.9 C1660.5,318.8 1660.9,318.9 1661.3,319.1 C1661.8,319.3 1662.2,319.6 1662.7,319.9 C1663.2,320.2 1663.6,320.7 1664.0,320.7 C1664.5,320.7 1664.9,320.0 1665.4,319.9 C1665.8,319.8 1666.3,319.9 1666.8,319.9 C1667.2,320.0 1667.7,320.1 1668.1,320.2 C1668.5,320.3 1669.0,320.7 1669.4,320.6 C1669.9,320.5 1670.3,319.7 1670.8,319.7 C1671.2,319.8 1671.7,320.7 1672.1,320.7 C1672.6,320.8 1673.0,320.1 1673.5,320.1 C1673.9,320.2 1674.4,320.8 1674.8,321.0 C1675.3,321.3 1675.7,321.8 1676.2,321.8 C1676.6,321.8 1676.0,319.8 1677.5,321.1 C1679.0,322.4 1683.2,326.3 1685.1,329.6 C1687.0,332.9 1687.7,335.4 1688.9,340.9 C1690.2,346.4 1691.3,359.6 1692.6,362.6 C1693.8,365.6 1695.4,358.5 1696.4,358.9 C1697.4,359.3 1698.0,356.4 1698.8,365.0 C1699.6,373.6 1700.5,394.4 1701.3,410.3 C1702.1,426.2 1702.8,444.2 1703.8,460.6 C1704.8,477.0 1706.6,500.2 1707.6,508.4 C1708.6,516.6 1708.8,512.6 1709.6,509.7 C1710.4,506.8 1711.5,496.1 1712.6,490.8 C1713.7,485.6 1714.9,483.9 1716.4,478.2 C1717.9,472.5 1719.5,460.4 1721.4,456.9 C1723.3,453.3 1725.6,456.9 1727.7,456.9 C1729.8,456.9 1732.3,460.5 1734.0,456.9 C1735.7,453.3 1736.3,444.5 1737.8,435.5 C1739.3,426.5 1741.2,412.4 1742.8,402.8 C1744.4,393.2 1746.1,381.0 1747.4,378.1 C1748.7,375.2 1748.7,376.5 1750.4,385.2 C1752.2,393.9 1755.6,420.1 1757.9,430.4 C1760.2,440.7 1762.3,444.8 1764.2,446.8 C1766.1,448.8 1767.3,438.7 1769.2,442.5 C1771.1,446.3 1773.4,469.3 1775.5,469.4 C1777.6,469.5 1779.7,446.6 1781.8,443.0 C1783.9,439.4 1786.3,448.5 1788.1,448.0 C1789.9,447.5 1790.5,438.7 1792.6,440.0 C1794.7,441.3 1798.1,445.7 1800.7,455.6 C1803.3,465.5 1806.1,499.2 1808.2,499.6 C1810.3,500.0 1811.8,465.9 1813.3,458.1 C1814.8,450.4 1815.5,457.1 1817.0,453.1 C1818.5,449.1 1820.4,435.1 1822.1,434.2 C1823.8,433.3 1825.6,448.0 1827.1,448.0 C1828.6,448.0 1829.4,438.4 1830.9,434.2 C1832.4,430.0 1834.0,427.5 1835.9,422.9 C1837.8,418.3 1840.3,410.1 1842.1,406.4 C1843.9,402.7 1844.8,402.0 1846.5,400.9 C1848.2,399.8 1850.8,399.8 1852.0,399.8 C1853.2,399.8 1853.1,400.7 1853.7,400.8 C1854.2,401.0 1854.8,400.2 1855.3,400.9 C1855.8,401.6 1856.4,403.7 1856.9,405.0 C1857.5,406.3 1858.1,407.5 1858.6,408.6 C1859.1,409.7 1859.5,410.7 1860.0,411.7 C1860.4,412.7 1860.9,413.8 1861.3,414.6 C1861.8,415.4 1862.3,415.7 1862.7,416.6 C1863.2,417.4 1863.6,419.3 1864.1,419.6 C1864.6,419.9 1865.1,418.7 1865.6,418.3 C1866.1,417.9 1866.5,417.7 1867.0,417.2 C1867.5,416.6 1868.0,415.3 1868.5,415.2 C1869.0,415.1 1869.4,416.4 1869.8,416.7 C1870.3,417.1 1870.7,417.3 1871.2,417.5 C1871.6,417.7 1872.1,417.8 1872.5,418.1 C1873.0,418.4 1873.4,419.1 1873.9,419.5 C1874.3,419.9 1874.7,419.8 1875.2,420.7 C1875.7,421.6 1876.2,423.6 1876.7,424.6 C1877.2,425.7 1877.6,425.9 1878.1,426.9 C1878.6,427.9 1879.1,429.2 1879.6,430.7 C1880.1,432.2 1880.6,433.8 1881.1,435.6 C1881.6,437.4 1882.0,439.8 1882.5,441.5 C1883.0,443.3 1883.5,445.3 1884.0,446.1 C1884.5,446.9 1885.1,446.4 1885.7,446.6 C1886.2,446.8 1886.8,446.6 1887.3,447.2 C1887.8,447.8 1888.4,449.1 1888.9,450.2 C1889.5,451.3 1890.1,453.7 1890.6,453.8 C1891.1,453.9 1891.6,451.7 1892.1,450.8 C1892.6,450.0 1893.0,449.7 1893.5,448.8 C1894.0,447.9 1894.5,446.1 1895.0,445.6 C1895.5,445.1 1895.9,445.9 1896.4,446.1 C1896.8,446.3 1897.3,446.6 1897.8,446.9 C1898.2,447.1 1898.7,447.5 1899.1,447.8 C1899.6,448.0 1900.1,448.0 1900.5,448.3 C1900.9,448.6 1901.4,449.1 1901.8,449.3 C1902.3,449.5 1902.7,449.5 1903.1,449.6 C1903.6,449.7 1904.0,449.5 1904.5,449.8 C1904.9,450.0 1905.3,450.7 1905.8,451.0 C1906.2,451.3 1906.6,450.7 1907.1,451.6 C1907.6,452.5 1908.1,454.8 1908.6,456.5 C1909.1,458.3 1909.5,460.2 1910.0,462.1 C1910.5,464.0 1911.0,466.4 1911.5,468.1 C1912.0,469.8 1912.6,470.7 1913.2,472.1 C1913.7,473.6 1914.3,475.7 1914.8,476.9 C1915.3,478.1 1915.8,478.6 1916.3,479.3 C1916.8,480.0 1917.2,480.3 1917.7,481.0 C1918.2,481.7 1918.7,483.3 1919.2,483.5 C1919.7,483.7 1920.2,482.8 1920.7,482.3 C1921.2,481.7 1921.6,480.7 1922.1,480.2 C1922.6,479.6 1923.1,479.4 1923.6,479.1 C1924.1,478.8 1924.6,478.4 1925.1,478.2 C1925.7,478.0 1926.2,477.7 1926.7,477.6 C1927.2,477.6 1927.7,478.0 1928.2,478.0 C1928.7,478.0 1929.2,478.0 1929.8,477.8 C1930.3,477.6 1930.8,477.3 1931.3,476.9 C1931.8,476.5 1932.3,475.9 1932.8,475.5 C1933.3,475.0 1933.7,474.7 1934.2,474.4 C1934.7,474.1 1935.2,474.0 1935.7,473.6 C1936.2,473.2 1936.7,472.3 1937.2,471.9 C1937.7,471.6 1938.1,471.8 1938.6,471.6 C1939.1,471.3 1939.6,470.3 1940.1,470.3 C1940.6,470.3 1941.1,471.1 1941.6,471.5 C1942.1,471.9 1942.5,472.3 1943.0,472.8 C1943.5,473.3 1944.0,474.1 1944.5,474.7 C1945.0,475.3 1945.4,476.0 1945.8,476.6 C1946.3,477.2 1946.7,477.8 1947.1,478.3 C1947.6,478.9 1948.0,479.4 1948.5,479.9 C1948.9,480.4 1949.3,480.7 1949.8,481.3 C1950.2,481.9 1950.6,481.6 1951.1,483.5 C1951.6,485.4 1952.1,489.5 1952.6,492.5 C1953.1,495.5 1953.6,498.3 1954.1,501.2 C1954.6,504.2 1955.1,508.2 1955.6,510.0 C1956.1,511.8 1956.8,511.7 1957.0,512.0" fill="none" stroke="#1a68da" stroke-width="3.9" stroke-linejoin="round" stroke-linecap="round"/>
<rect x="1262.5" y="32.0" width="694.5" height="508.29999999999995" fill="none" stroke="#000" stroke-width="2.2"/>
<path d="M1358.92,540.3 v-5 M1358.92,32.0 v5 M1455.35,540.3 v-9 M1455.35,32.0 v9 M1551.78,540.3 v-5 M1551.78,32.0 v5 M1648.20,540.3 v-9 M1648.20,32.0 v9 M1744.62,540.3 v-5 M1744.62,32.0 v5 M1841.05,540.3 v-9 M1841.05,32.0 v9 M1937.47,540.3 v-5 M1937.47,32.0 v5 M1957.0,56.20 h-5 M1260.7,56.20 h3.6 M1957.0,80.41 h-9 M1260.7,80.41 h3.6 M1957.0,104.61 h-5 M1260.7,104.61 h3.6 M1957.0,128.82 h-9 M1260.7,128.82 h3.6 M1957.0,153.02 h-5 M1260.7,153.02 h3.6 M1957.0,177.23 h-9 M1260.7,177.23 h3.6 M1957.0,201.43 h-5 M1260.7,201.43 h3.6 M1957.0,225.64 h-9 M1260.7,225.64 h3.6 M1957.0,249.84 h-5 M1260.7,249.84 h3.6 M1957.0,274.05 h-9 M1260.7,274.05 h3.6 M1957.0,298.25 h-5 M1260.7,298.25 h3.6 M1957.0,322.46 h-9 M1260.7,322.46 h3.6 M1957.0,346.66 h-5 M1260.7,346.66 h3.6 M1957.0,370.87 h-9 M1260.7,370.87 h3.6 M1957.0,395.07 h-5 M1260.7,395.07 h3.6 M1957.0,419.28 h-9 M1260.7,419.28 h3.6 M1957.0,443.48 h-5 M1260.7,443.48 h3.6 M1957.0,467.69 h-9 M1260.7,467.69 h3.6 M1957.0,491.89 h-5 M1260.7,491.89 h3.6 M1957.0,516.10 h-9 M1260.7,516.10 h3.6" stroke="#000" stroke-width="2" fill="none"/>
<text x="1262.5" y="569.2" text-anchor="middle" class="tl">4000</text>
<text x="1455.3" y="569.2" text-anchor="middle" class="tl">3000</text>
<text x="1648.2" y="569.2" text-anchor="middle" class="tl">2000</text>
<text x="1841.0" y="569.2" text-anchor="middle" class="tl">1000</text>
<text x="1478.3" y="612.9" class="al" style="font-size:28.6px">Wavenumber (cm<tspan style="font-size:16.5px" dx="0.5" dy="-15">-1</tspan><tspan dy="15">)</tspan></text>
<text transform="translate(1226,292.2) rotate(-90)" text-anchor="middle" class="al" style="font-size:29.7px">Transmittance (a.u.)</text>
<path d="M1647.5,60.8 H1704.5" stroke="#4a4a4a" stroke-width="3.4" stroke-linecap="round"/>
<text x="1718" y="69.4" class="lg">Carbonized OP</text>
<path d="M1647.5,92.0 H1704.5" stroke="#ee3b43" stroke-width="3.4" stroke-linecap="round"/>
<text x="1718" y="100.6" class="lg">Hot-dried CQDs</text>
<path d="M1647.5,123.2 H1704.5" stroke="#1a68da" stroke-width="3.4" stroke-linecap="round"/>
<text x="1718" y="131.8" class="lg">Freeze-dried CQDs</text>
<text x="1337.5" y="93.8" class="an" text-anchor="start">3600-3200 cm<tspan font-size="10.5" dx="0.2" dy="-10">-1</tspan></text>
<text x="1396.5" y="116" class="an" text-anchor="middle">O-H</text>
<text x="1396.5" y="137.9" class="an" text-anchor="middle">N-H</text>
<text x="1447.5" y="129.4" class="an" text-anchor="start">2933 cm<tspan font-size="10.5" dx="0.2" dy="-10">-1</tspan></text>
<text x="1477" y="151.5" class="an" text-anchor="middle">C-H</text>
<text x="1872" y="158.7" class="an" text-anchor="start">993 cm<tspan font-size="10.5" dx="0.2" dy="-10">-1</tspan></text>
<text x="1905" y="180.3" class="an" text-anchor="middle">C=C</text>
<text x="1751.2" y="260.2" class="an" text-anchor="start">1351 cm<tspan font-size="10.5" dx="0.2" dy="-10">-1</tspan></text>
<text x="1788.3" y="282.2" class="an" text-anchor="middle">C-O-C</text>
<text x="1590.2" y="485.6" class="an" text-anchor="start">1693 cm<tspan font-size="10.5" dx="0.2" dy="-10">-1</tspan></text>
<text x="1626.8" y="507.2" class="an" text-anchor="middle">C=O</text>
<text x="1827.7" y="494.5" class="an" text-anchor="start">1186 cm<tspan font-size="10.5" dx="0.2" dy="-10">-1</tspan></text>
<text x="1864" y="516.4" class="an" text-anchor="middle">C-N</text>
<path d="M1882.4,175.0 L1865.5,188.5" stroke="#000" stroke-width="1.5"/><path d="M1856.9,195.4 L1862.9,185.2 L1868.1,191.8 Z" fill="#000"/>
<path d="M1786.2,285.3 L1782.4,291.0" stroke="#000" stroke-width="1.5"/><path d="M1777.3,298.4 L1779.4,288.9 L1785.3,293.0 Z" fill="#000"/>
<path d="M1654.3,496.6 L1688.8,468.8" stroke="#000" stroke-width="1.5"/><path d="M1697.4,461.9 L1691.5,472.1 L1686.2,465.5 Z" fill="#000"/>
<path d="M1843.8,502.3 L1821.5,507.0" stroke="#000" stroke-width="1.5"/><path d="M1810.7,509.3 L1820.6,502.9 L1822.3,511.1 Z" fill="#000"/>
<text x="5.6" y="55.7" class="pl">(a)</text>
<text x="656.6" y="55.7" class="pl">(b)</text>
<text x="1156" y="55.7" class="pl">(c)</text>
</svg>
</body></html>
